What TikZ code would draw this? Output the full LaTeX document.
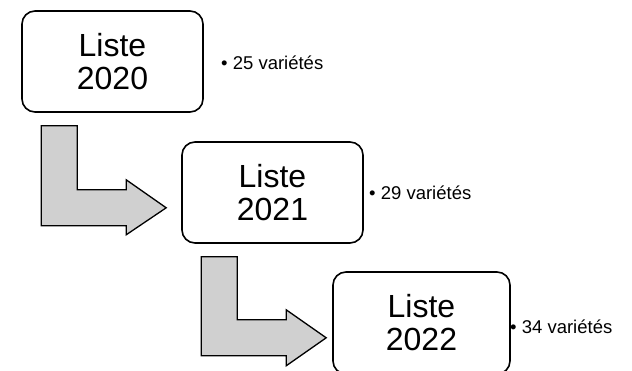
\documentclass[tikz,border=0pt]{standalone}
\usepackage{fontspec}
\setmainfont{Liberation Sans}
\usetikzlibrary{positioning}
\definecolor{arrowgray}{RGB}{208,208,208}
\begin{document}
\begin{tikzpicture}[x=1pt,y=-1pt]

\tikzstyle{liste}=[draw, fill=white, line width=1.6pt, rounded corners=13pt, minimum width=181pt, minimum height=101pt, inner sep=0pt, align=center, font=\fontsize{32}{33}\selectfont]
\tikzstyle{count}=[anchor=base west, inner sep=0pt, font=\fontsize{18.5}{22}\selectfont]
\tikzstyle{bent}=[draw, fill=arrowgray, line width=1.3pt, line join=miter]

\useasboundingbox (0,0) rectangle (632,371);

\node [liste] (list2020) at (112.5,61.5) {Liste\\2020};
\node [liste] (list2021) at (272.5,192.5) {Liste\\2021};
\node [liste, minimum width=177pt, minimum height=102pt] (list2022) at (421.5,323) {Liste\\2022};

\node [count] (count2020) at (221,70) {• 25 variétés};
\node [count] (count2021) at (369,200) {• 29 variétés};
\node [count] (count2022) at (510,334) {• 34 variétés};

\coordinate (bend1) at ([shift={(20,13)}]list2020.south west);
\coordinate (bend2) at ([shift={(20,13)}]list2021.south west);

\draw[bent] (bend1) -- ++(36,0) -- ++(0,64) -- ++(49,0) -- ++(0,-10) -- ++(40,28) -- ++(-40,27) -- ++(0,-9) -- ++(-85,0) -- cycle;
\draw[bent] (bend2) -- ++(36,0) -- ++(0,63) -- ++(49,0) -- ++(0,-10) -- ++(40,28) -- ++(-40,28) -- ++(0,-10) -- ++(-85,0) -- cycle;

\end{tikzpicture}
\end{document}
